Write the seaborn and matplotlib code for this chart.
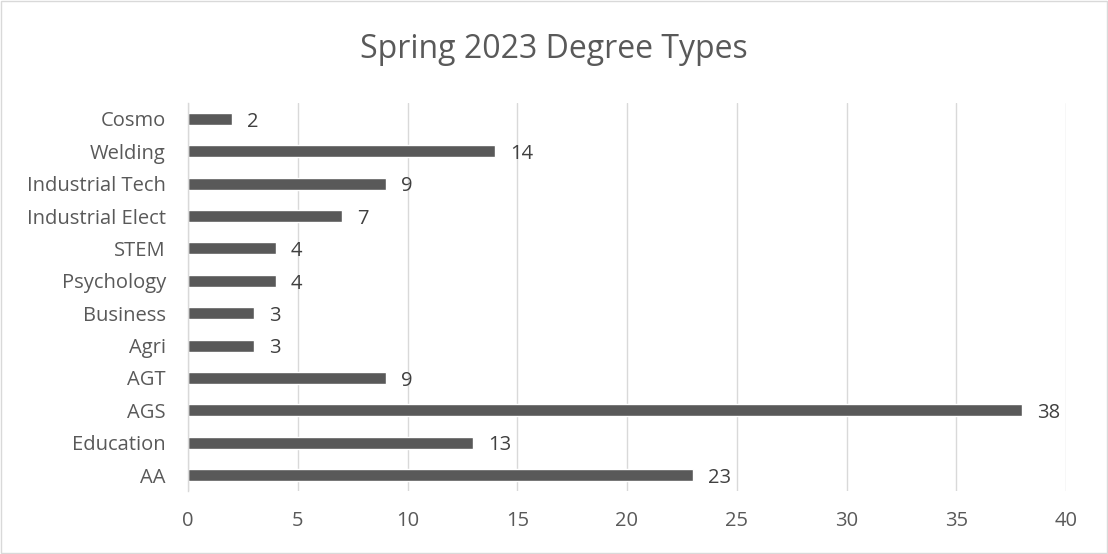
import matplotlib
matplotlib.use("Agg")
import matplotlib.pyplot as plt
import matplotlib.patches as mpatches
import seaborn as sns
import pandas as pd

categories = ["Cosmo", "Welding", "Industrial Tech", "Industrial Elect", "STEM",
              "Psychology", "Business", "Agri", "AGT", "AGS", "Education", "AA"]
values = [2, 14, 9, 7, 4, 4, 3, 3, 9, 38, 13, 23]
x_ticks = [0, 5, 10, 15, 20, 25, 30, 35, 40]
title = "Spring 2023 Degree Types"

sns.set_theme(style="white")
plt.rcParams['font.family'] = ['Open Sans', 'DejaVu Sans']

df = pd.DataFrame({"cat": categories, "val": values})

fig = plt.figure(figsize=(11.08, 5.54), dpi=100)
left, right, top, bottom = 188 / 1108, 1066 / 1108, 1 - 102.8 / 554, 1 - 491.2 / 554
ax = fig.add_axes([left, bottom, right - left, top - bottom])

sns.barplot(data=df, x="val", y="cat", order=categories, color="#595959",
            width=0.37, ax=ax, saturation=1)

for i, v in enumerate(values):
    ax.annotate(str(v), xy=(v, i), xytext=(11, -2), textcoords="offset points",
                va="center", ha="left", fontsize=14.5, color="#404040")

ax.set_xlim(0, 40)
ax.set_ylim(11.5, -0.5)
ax.set_xticks(x_ticks)
ax.set_xticklabels([str(t) for t in x_ticks])
ax.tick_params(axis="y", labelsize=14.5, length=0, pad=16)
ax.tick_params(axis="x", labelsize=14.5, length=0, pad=14)
for lbl in ax.get_yticklabels() + ax.get_xticklabels():
    lbl.set_color("#595959")
ax.set_xlabel("")
ax.set_ylabel("")
ax.xaxis.grid(True, color="#d9d9d9", linewidth=1)
ax.set_axisbelow(True)
for s in ["top", "right", "bottom"]:
    ax.spines[s].set_visible(False)
ax.spines["left"].set_color("#d9d9d9")
ax.spines["left"].set_linewidth(1)

fig.text(0.5, 0.91, title, ha="center", va="center", fontsize=23, color="#595959")

fig.patches.append(mpatches.Rectangle((0.001, 0.002), 0.998, 0.996, transform=fig.transFigure,
                                      fill=False, edgecolor="#d9d9d9", linewidth=1))

fig.savefig("out.png", dpi=100)
